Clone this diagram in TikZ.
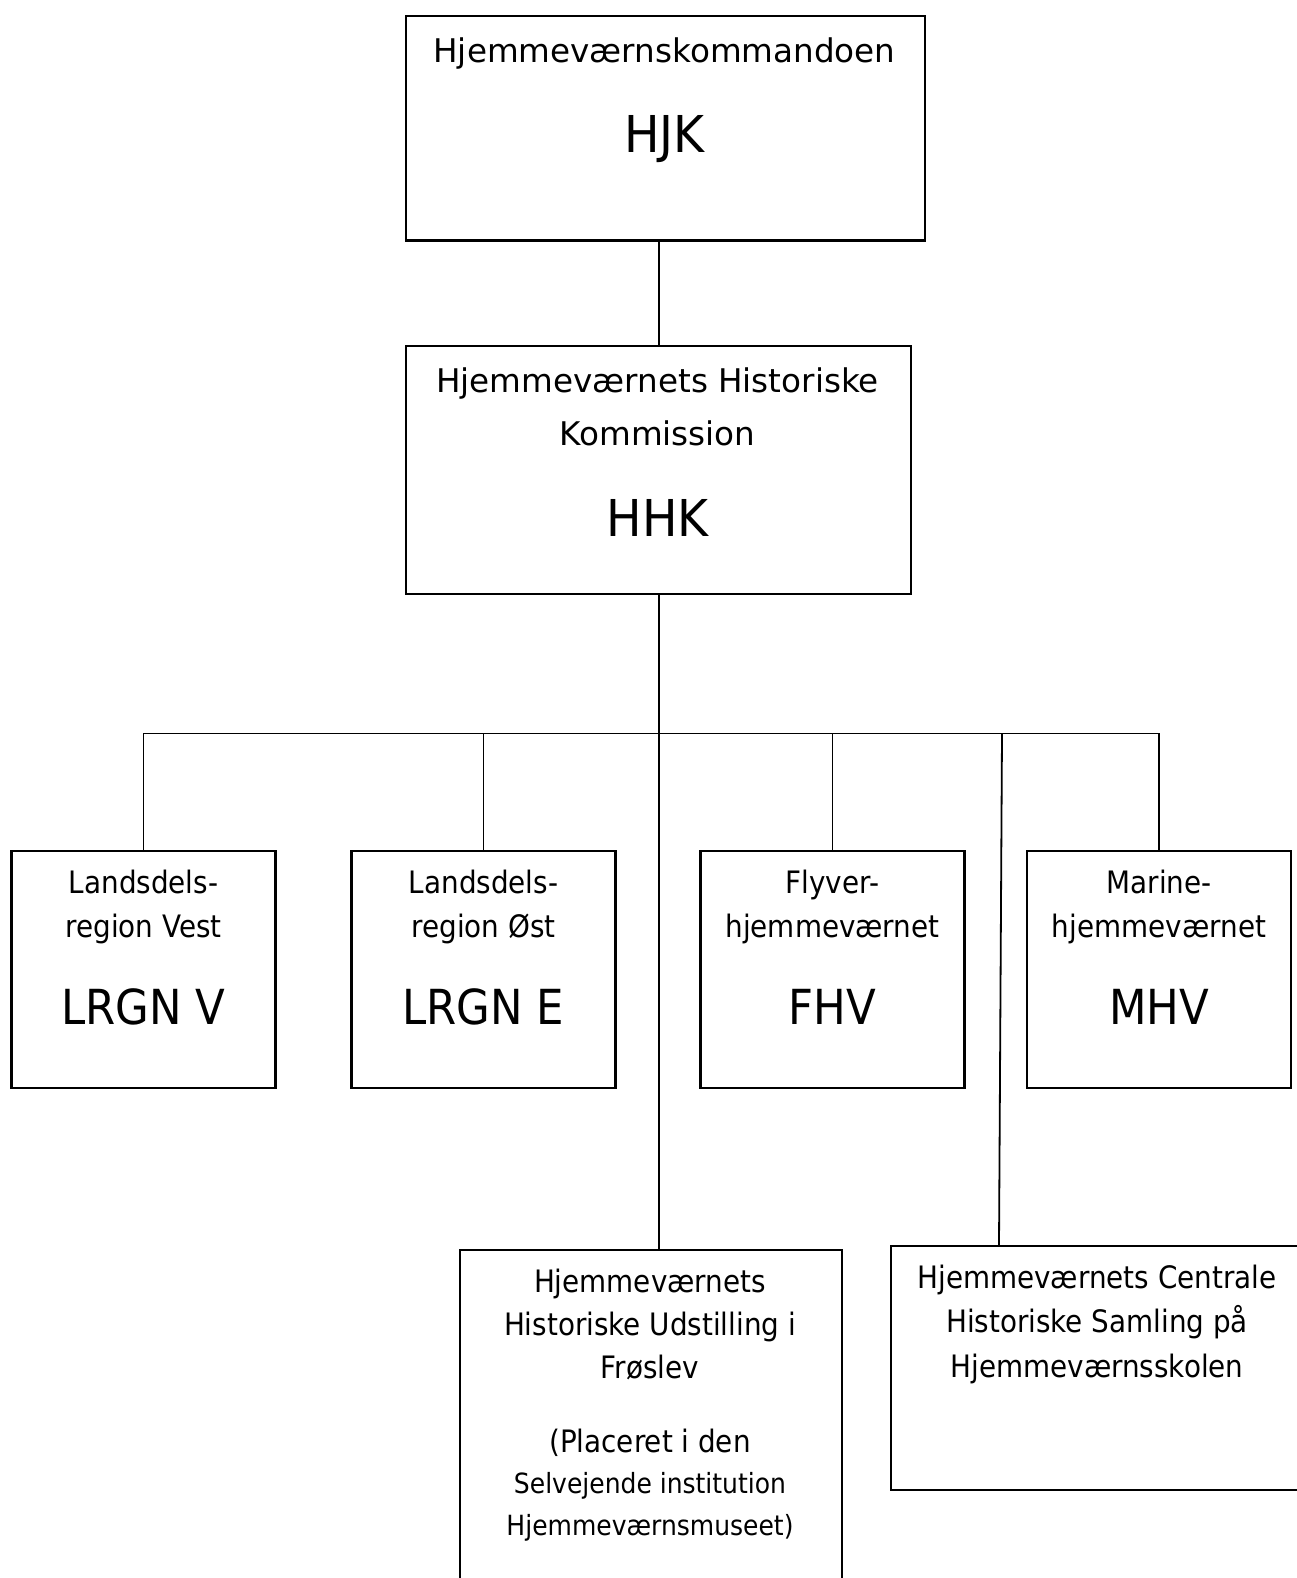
\documentclass[tikz,border=0pt]{standalone}
\usepackage{fontspec}
\setmainfont{DejaVu Sans}
\newfontfamily\narrowfont[FakeStretch=0.9]{DejaVu Sans}
\newfontfamily\abbrfont[FakeStretch=0.93]{DejaVu Sans}
\begin{document}
\begin{tikzpicture}[x=0.5pt,y=-0.5pt,
	box/.style={draw, line width=1.2pt, inner sep=0pt},
	unitbox/.style={box, anchor=north, minimum width=132pt, minimum height=118.5pt},
	link/.style={line width=0.9pt},
	txt/.style={anchor=base, inner sep=0pt, font=\fontsize{16.3}{19}\selectfont},
	abbr/.style={anchor=base, inner sep=0pt, font=\abbrfont\fontsize{25.4}{30}\selectfont},
	ntxt/.style={anchor=base, inner sep=0pt, font=\narrowfont\fontsize{15.45}{19}\selectfont},
	ntxtsmall/.style={anchor=base, inner sep=0pt, font=\narrowfont\fontsize{13.9}{17}\selectfont},
	nabbr/.style={anchor=base, inner sep=0pt, font=\narrowfont\fontsize{24.15}{29}\selectfont}]
	\useasboundingbox (0,0) rectangle (1296,1578);
	% boxes
	\node[box, anchor=north west, minimum width=259.5pt, minimum height=112.25pt] (hjk) at (405,15) {};
	\node[box, anchor=north west, minimum width=252.5pt, minimum height=124pt] (hhk) at (405,345) {};
	\node[unitbox] (lrgnv) at (143.5,850) {};
	\node[unitbox] (lrgne) at (483.5,850) {};
	\node[unitbox] (fhv) at (832.5,850) {};
	\node[unitbox] (mhv) at (1159,850) {};
	\node[box, anchor=north west, minimum width=191pt, minimum height=175.5pt] (fro) at (459,1249) {};
	\node[box, anchor=north west, minimum width=207pt, minimum height=122pt] (cen) at (890,1245) {};
	
	% texts
	\node[txt] (hjkname) at (664.5,62.5) {Hjemmeværnskommandoen};
	\node[abbr] (hjkabbr) at (664.5,152.5) {HJK};
	\node[txt] (hhkname1) at (657.5,392) {Hjemmeværnets Historiske};
	\node[txt] (hhkname2) at (657.5,445) {Kommission};
	\node[abbr] (hhkabbr) at (657.5,536) {HHK};
	\node[ntxt] (lrgnv1) at (143.5,893) {Landsdels-};
	\node[ntxt] (lrgnv2) at (143.5,937) {region Vest};
	\node[nabbr] (lrgnvabbr) at (143.5,1024) {LRGN V};
	\node[ntxt] (lrgne1) at (483.5,893) {Landsdels-};
	\node[ntxt] (lrgne2) at (483.5,937) {region Øst};
	\node[nabbr] (lrgneabbr) at (483.5,1024) {LRGN E};
	\node[ntxt] (fhv1) at (832.5,893) {Flyver-};
	\node[ntxt] (fhv2) at (832.5,937) {hjemmeværnet};
	\node[nabbr] (fhvabbr) at (832.5,1024) {FHV};
	\node[ntxt] (mhv1) at (1159,893) {Marine-};
	\node[ntxt] (mhv2) at (1159,937) {hjemmeværnet};
	\node[nabbr] (mhvabbr) at (1159,1024) {MHV};
	\node[ntxt] (fro1) at (650,1292) {Hjemmeværnets};
	\node[ntxt] (fro2) at (650,1335) {Historiske Udstilling i};
	\node[ntxt] (fro3) at (650,1378) {Frøslev};
	\node[ntxt] (fro4) at (650,1452) {(Placeret i den};
	\node[ntxtsmall] (fro5) at (650,1493) {Selvejende institution};
	\node[ntxtsmall] (fro6) at (650,1535) {Hjemmeværnsmuseet)};
	\node[ntxt] (cen1) at (1097,1288) {Hjemmeværnets Centrale};
	\node[ntxt] (cen2) at (1097,1332) {Historiske Samling på};
	\node[ntxt] (cen3) at (1097,1377) {Hjemmeværnsskolen};
	
	% connectors
	\coordinate (bus) at (656,733.5);
	\coordinate (tap) at (1002,733.5);
	\draw[link] (hhk.north) -- (hhk.north |- hjk.south);
	\draw[link] (hhk.south) -- (hhk.south |- fro.north);
	\draw[link] (lrgnv.north) -- (lrgnv.north |- bus) -- (mhv.north |- bus) -- (mhv.north);
	\draw[link] (lrgne.north) -- (lrgne.north |- bus);
	\draw[link] (fhv.north) -- (fhv.north |- bus);
	\draw[link] (tap) -- ([xshift=-1.5pt]tap |- cen.north);
\end{tikzpicture}
\end{document}
